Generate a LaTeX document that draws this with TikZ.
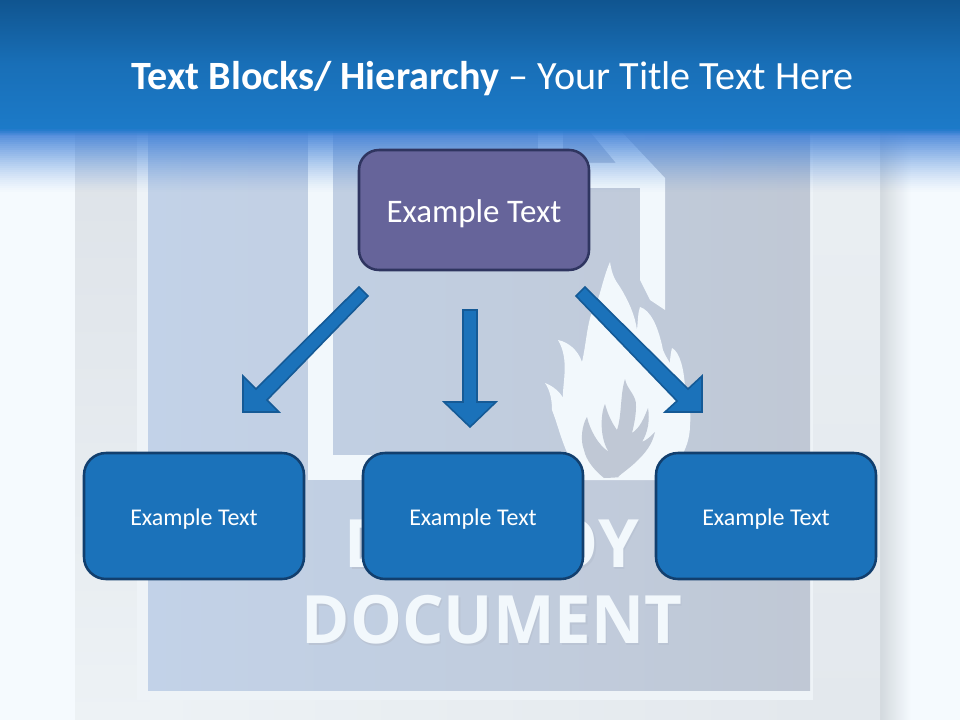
\documentclass[tikz,border=0pt]{standalone}
\usepackage{fontspec}
\setmainfont{Carlito}
\newfontfamily\docfont{Open Sans}
\definecolor{pagewhite}{HTML}{F5FAFE}
\definecolor{sheetA}{HTML}{DDE2E8}
\definecolor{sheetB}{HTML}{EDF2F5}
\definecolor{sheetC}{HTML}{E3E8ED}
\definecolor{sheetD}{HTML}{EAEFF3}
\definecolor{shadowc}{HTML}{D3D9DE}
\definecolor{framec}{HTML}{EEF3F7}
\definecolor{paneL}{HTML}{C2D2E8}
\definecolor{paneM}{HTML}{C1CCDE}
\definecolor{paneR}{HTML}{C0C8D5}
\definecolor{iconw}{HTML}{F2F8FC}
\definecolor{bandTop}{HTML}{105590}
\definecolor{bandBot}{HTML}{1C7AC8}
\definecolor{fadeblue}{HTML}{3F80D8}
\definecolor{purplefill}{HTML}{66649A}
\definecolor{purpleline}{HTML}{2F3560}
\definecolor{bluefill}{HTML}{1B72BA}
\definecolor{blueline}{HTML}{123F6E}
\definecolor{arrowline}{HTML}{155A96}
\definecolor{wordshadow}{HTML}{BAC4D4}
\tikzset{
  x=0.75pt,y=-0.75pt,
  topbox/.style={draw=purpleline,line width=1.9pt,fill=purplefill,rounded corners=15pt,text=white,font=\fontsize{24.7}{28}\selectfont,text height=19.5pt,text depth=0pt,minimum width=172.5pt,minimum height=90pt,inner sep=0pt},
  lowbox/.style={draw=blueline,line width=1.9pt,fill=bluefill,rounded corners=16.5pt,text=white,font=\fontsize{18}{22}\selectfont,text height=13.5pt,text depth=0pt,minimum width=165pt,minimum height=94.5pt,inner sep=0pt},
  blockarrow/.style={draw=arrowline,line width=1.2pt,fill=bluefill,line join=miter},
  iconpart/.style={fill=iconw,draw=none},
  bigword/.style={font=\docfont\bfseries\fontsize{50}{54}\selectfont,xscale=.98},
}
\begin{document}
\begin{tikzpicture}
\useasboundingbox (0,0) rectangle (960,720);
\fill[pagewhite] (0,0) rectangle (960,720);
% sheet and shadow
\shade[left color=shadowc,right color=pagewhite] (880,128) rectangle (911,720);
\shade[top color=sheetA,middle color=sheetA!75!sheetB,bottom color=sheetB] (75,128) rectangle (150,720);
\shade[top color=sheetD,bottom color=sheetC] (810,128) rectangle (880,720);
\shade[left color=sheetB,right color=sheetC] (150,690) rectangle (810,720);
\fill[framec] (137,128) rectangle (813,700);
\shade[left color=paneL,middle color=paneM,right color=paneR] (148,128) rectangle (810,690);
% document icon
\fill[iconpart] (308,128) rectangle (333,480);
\fill[iconpart] (308,455) rectangle (600,480);
\fill[iconpart] (538,128) rectangle (563,188);
\fill[iconpart] (587,128) -- (618,128) -- (665,178) -- (665,310) -- (650,300) -- (640,280)
  -- (640,188) -- (563,188) -- (563,163) -- (616,163) -- cycle;
% flame
\fill[iconpart] (585,480) .. controls (565,460) and (560,430) .. (552,410)
  .. controls (552,400) and (550,390) .. (545,383)
  .. controls (553,386) and (560,392) .. (563,398)
  .. controls (562,385) and (570,360) .. (558,340)
  .. controls (568,342) and (578,350) .. (582,362)
  .. controls (586,345) and (587,325) .. (592,312)
  .. controls (600,300) and (602,280) .. (610,262)
  .. controls (612,275) and (615,280) .. (620,287)
  .. controls (628,300) and (635,315) .. (637,330)
  .. controls (638,320) and (638,312) .. (640,307)
  .. controls (650,310) and (658,325) .. (663,350)
  .. controls (665,355) and (668,360) .. (670,363)
  .. controls (670,358) and (671,352) .. (672,348)
  .. controls (680,352) and (684,370) .. (685,387)
  .. controls (690,400) and (691,415) .. (690,425)
  .. controls (690,445) and (680,465) .. (660,480) -- cycle;
\fill[paneR] (625,379) .. controls (627,390) and (637,395) .. (636,407)
  .. controls (636,415) and (634,425) .. (632,433)
  .. controls (640,428) and (644,418) .. (648,408)
  .. controls (650,420) and (648,432) .. (642,442)
  .. controls (647,440) and (651,436) .. (655,432)
  .. controls (652,445) and (645,453) .. (638,460)
  .. controls (630,468) and (622,473) .. (618,477)
  .. controls (624,477) and (608,478) .. (604,478)
  .. controls (594,470) and (586,460) .. (584,450)
  .. controls (580,440) and (582,425) .. (587,417)
  .. controls (590,430) and (598,445) .. (609,452)
  .. controls (600,440) and (600,415) .. (605,404)
  .. controls (608,415) and (612,423) .. (617,430)
  .. controls (622,415) and (620,395) .. (625,379) -- cycle;
% words
\node[bigword,text=wordshadow] at (493.5,621.5) {DOCUMENT};
\node[bigword,text=iconw] (docword) at (492,620) {DOCUMENT};
\node[bigword,text=wordshadow] at (493.5,545.5) {DESTROY};
\node[bigword,text=iconw] (destroyword) at (492,544) {DESTROY};
% fade under the band
\foreach \i in {0,...,31}{
  \pgfmathsetmacro{\op}{(1-\i/32)^1.3}
  \fill[fadeblue,opacity=\op] (0,128+2*\i) rectangle (960,130+2*\i);
}
\foreach \i/\o in {0/1,1/.75,2/.45,3/.2}{
  \fill[bandBot,opacity=\o] (0,127+2*\i) rectangle (960,129+2*\i);
}
% top band
\shade[top color=bandTop,bottom color=bandBot,middle color=bandBot!70!bandTop] (0,0) rectangle (960,127.5);
\node[text=white,anchor=west,font=\fontsize{30.1}{34}\selectfont,inner sep=0pt] (title) at (131,79) {\textbf{Text Blocks/ Hierarchy} – Your Title Text Here};
% boxes
\node[topbox] (top) at (474,210) {Example Text};
\node[lowbox] (left) at (194,516) {Example Text};
\node[lowbox] (mid) at (473,516) {Example Text};
\node[lowbox] (right) at (766,516) {Example Text};
% block arrows
\draw[blockarrow] (359,287) -- (368,296) -- (267,400) -- (279,412) -- (243,412) -- (243,376) -- (256,389) -- cycle;
\draw[blockarrow] (463,310) -- (477,310) -- (477,402) -- (496,402) -- (470,427) -- (444,402) -- (463,402) -- cycle;
\draw[blockarrow] (585,287) -- (576,296) -- (677,401) -- (665,412) -- (702,412) -- (702,376) -- (688,389) -- cycle;
\end{tikzpicture}
\end{document}
